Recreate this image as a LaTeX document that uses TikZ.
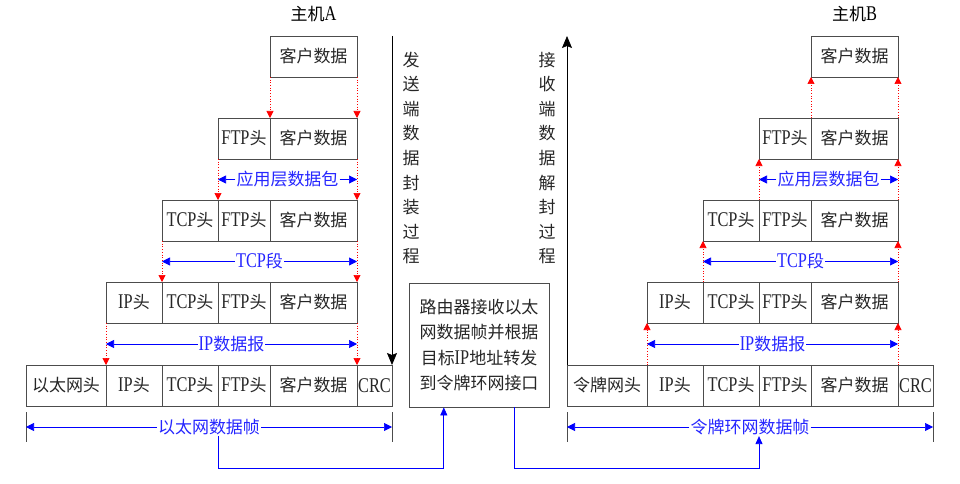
\documentclass[tikz,border=0pt]{standalone}
\usepackage{fontspec}
\setmainfont{Liberation Serif}[Scale=1.27,FakeStretch=0.78]
\newfontfamily\cjk{Noto Sans CJK SC}[Scale=1.03]
\newcommand{\zh}[1]{{\cjk #1}}
\usetikzlibrary{positioning,calc,arrows.meta}
\tikzstyle{cell} = [rectangle, draw=black!70, line width=0.8pt, minimum height=41pt, inner sep=0pt, outer sep=0pt, text=black!85]
\tikzstyle{hdrcell} = [cell, minimum width=80pt]
\tikzstyle{ipcell} = [cell, minimum width=56pt]
\tikzstyle{tcpcell} = [cell, minimum width=56pt]
\tikzstyle{ftpcell} = [cell, minimum width=52pt]
\tikzstyle{datacell} = [cell, minimum width=87pt]
\tikzstyle{crccell} = [cell, minimum width=35pt]
\tikzstyle{layer} = [draw, red, dotted, line width=0.7pt, -{Triangle[length=7pt,width=7pt]}]
\tikzstyle{span} = [draw, blue, line width=0.7pt, -{Triangle[length=8pt,width=8pt]}]
\tikzstyle{spanlabel} = [text=blue!85, fill=white, inner sep=1pt]
\tikzstyle{flow} = [draw, black, line width=0.8pt, -{Stealth[length=12pt,width=10pt,inset=2pt]}]
\tikzstyle{link} = [draw, blue, line width=0.8pt, -{Triangle[length=8pt,width=7pt]}]
\tikzstyle{tick} = [draw, black!70, line width=0.8pt]
\tikzstyle{vtext} = [align=center, inner sep=0pt, text=black!85, font=\fontsize{16.5}{24.6}\selectfont\cjk]
\tikzstyle{router} = [rectangle, draw=black!70, line width=0.8pt, minimum width=140pt, minimum height=124pt, align=center, inner sep=0pt, text=black!85, font=\fontsize{16.5}{25.5}\selectfont]
\begin{document}
\begin{tikzpicture}[x=1pt,y=-1pt,font=\fontsize{16.5}{19}\selectfont]
\useasboundingbox (0,0) rectangle (960,484);

% host A
\node[datacell] (a1data) at (313.5,56.5) {\zh{客户数据}};
\node[above=10pt of a1data] (hosta) {\zh{主机}A};
\node[datacell,below=41pt of a1data] (a2data) {\zh{客户数据}};
\node[ftpcell,left=0pt of a2data] (a2ftp) {FTP\zh{头}};
\node[datacell,below=41pt of a2data] (a3data) {\zh{客户数据}};
\node[ftpcell,left=0pt of a3data] (a3ftp) {FTP\zh{头}};
\node[tcpcell,left=0pt of a3ftp] (a3tcp) {TCP\zh{头}};
\node[datacell,below=41pt of a3data] (a4data) {\zh{客户数据}};
\node[ftpcell,left=0pt of a4data] (a4ftp) {FTP\zh{头}};
\node[tcpcell,left=0pt of a4ftp] (a4tcp) {TCP\zh{头}};
\node[ipcell,left=0pt of a4tcp] (a4ip) {IP\zh{头}};
\node[datacell,below=42pt of a4data] (a5data) {\zh{客户数据}};
\node[ftpcell,left=0pt of a5data] (a5ftp) {FTP\zh{头}};
\node[tcpcell,left=0pt of a5ftp] (a5tcp) {TCP\zh{头}};
\node[ipcell,left=0pt of a5tcp] (a5ip) {IP\zh{头}};
\node[hdrcell,left=0pt of a5ip] (a5eth) {\zh{以太网头}};
\node[crccell,right=0pt of a5data] (a5crc) {CRC};

\draw[layer] (a1data.south west) -- (a2data.north west);
\draw[layer] (a1data.south east) -- (a2data.north east);
\draw[layer] (a2ftp.south west) -- (a3ftp.north west);
\draw[layer] (a2data.south east) -- (a3data.north east);
\draw[layer] (a3tcp.south west) -- (a4tcp.north west);
\draw[layer] (a3data.south east) -- (a4data.north east);
\draw[layer] (a4ip.south west) -- (a5ip.north west);
\draw[layer] (a4data.south east) -- (a5data.north east);

\node[spanlabel] (appa) at ($(a2ftp.south west)!0.5!(a3data.north east)$) {\zh{应用层数据包}};
\draw[span] (appa.west) -- (appa.west -| a2ftp.west);
\draw[span] (appa.east) -- (appa.east -| a2data.east);
\node[spanlabel] (tcpa) at ($(a3tcp.south west)!0.5!(a4data.north east)$) {TCP\zh{段}};
\draw[span] (tcpa.west) -- (tcpa.west -| a3tcp.west);
\draw[span] (tcpa.east) -- (tcpa.east -| a3data.east);
\node[spanlabel] (ipa) at ($(a4ip.south west)!0.5!(a5data.north east)$) {IP\zh{数据报}};
\draw[span] (ipa.west) -- (ipa.west -| a4ip.west);
\draw[span] (ipa.east) -- (ipa.east -| a4data.east);

\draw[tick] ($(a5eth.south west)+(0,6)$) -- ++(0,30);
\draw[tick] ($(a5crc.south east)+(0,6)$) -- ++(0,30);
\node[spanlabel] (etha) at ($(a5eth.south west)!0.5!(a5crc.south east)+(0,21)$) {\zh{以太网数据帧}};
\draw[span] (etha.west) -- (etha.west -| a5eth.west);
\draw[span] (etha.east) -- (etha.east -| a5crc.east);

\draw[flow] (a1data.north -| a5crc.east) -- (a5crc.north east);
\node[vtext] (senda) at (411,158) {发\\送\\端\\数\\据\\封\\装\\过\\程};

% router
\node[router] (router) at (479,345) {\zh{路由器接收以太}\\\zh{网数据帧并根据}\\\zh{目标}IP\zh{地址转发}\\\zh{到令牌环网接口}};

% host B
\node[datacell] (b1data) at (854.5,56.5) {\zh{客户数据}};
\node[above=10pt of b1data] (hostb) {\zh{主机}B};
\node[datacell,below=41pt of b1data] (b2data) {\zh{客户数据}};
\node[ftpcell,left=0pt of b2data] (b2ftp) {FTP\zh{头}};
\node[datacell,below=41pt of b2data] (b3data) {\zh{客户数据}};
\node[ftpcell,left=0pt of b3data] (b3ftp) {FTP\zh{头}};
\node[tcpcell,left=0pt of b3ftp] (b3tcp) {TCP\zh{头}};
\node[datacell,below=41pt of b3data] (b4data) {\zh{客户数据}};
\node[ftpcell,left=0pt of b4data] (b4ftp) {FTP\zh{头}};
\node[tcpcell,left=0pt of b4ftp] (b4tcp) {TCP\zh{头}};
\node[ipcell,left=0pt of b4tcp] (b4ip) {IP\zh{头}};
\node[datacell,below=42pt of b4data] (b5data) {\zh{客户数据}};
\node[ftpcell,left=0pt of b5data] (b5ftp) {FTP\zh{头}};
\node[tcpcell,left=0pt of b5ftp] (b5tcp) {TCP\zh{头}};
\node[ipcell,left=0pt of b5tcp] (b5ip) {IP\zh{头}};
\node[hdrcell,left=0pt of b5ip] (b5tok) {\zh{令牌网头}};
\node[crccell,right=0pt of b5data] (b5crc) {CRC};

\draw[layer] (b2data.north west) -- (b1data.south west);
\draw[layer] (b2data.north east) -- (b1data.south east);
\draw[layer] (b3ftp.north west) -- (b2ftp.south west);
\draw[layer] (b3data.north east) -- (b2data.south east);
\draw[layer] (b4tcp.north west) -- (b3tcp.south west);
\draw[layer] (b4data.north east) -- (b3data.south east);
\draw[layer] (b5ip.north west) -- (b4ip.south west);
\draw[layer] (b5data.north east) -- (b4data.south east);

\node[spanlabel] (appb) at ($(b2ftp.south west)!0.5!(b3data.north east)$) {\zh{应用层数据包}};
\draw[span] (appb.west) -- (appb.west -| b2ftp.west);
\draw[span] (appb.east) -- (appb.east -| b2data.east);
\node[spanlabel] (tcpb) at ($(b3tcp.south west)!0.5!(b4data.north east)$) {TCP\zh{段}};
\draw[span] (tcpb.west) -- (tcpb.west -| b3tcp.west);
\draw[span] (tcpb.east) -- (tcpb.east -| b3data.east);
\node[spanlabel] (ipb) at ($(b4ip.south west)!0.5!(b5data.north east)$) {IP\zh{数据报}};
\draw[span] (ipb.west) -- (ipb.west -| b4ip.west);
\draw[span] (ipb.east) -- (ipb.east -| b4data.east);

\draw[tick] ($(b5tok.south west)+(0,6)$) -- ++(0,30);
\draw[tick] ($(b5crc.south east)+(0,6)$) -- ++(0,30);
\node[spanlabel] (tokb) at ($(b5tok.south west)!0.5!(b5crc.south east)+(0,21)$) {\zh{令牌环网数据帧}};
\draw[span] (tokb.west) -- (tokb.west -| b5tok.west);
\draw[span] (tokb.east) -- (tokb.east -| b5crc.east);

\draw[flow] (b5tok.north west) -- (b5tok.west |- b1data.north);
\node[vtext] (recvb) at (547,158) {接\\收\\端\\数\\据\\解\\封\\过\\程};

% links through the router
\coordinate (busy) at (0,468);
\coordinate (rin) at ($(router.south west)!0.25!(router.south east)$);
\coordinate (rout) at ($(router.south west)!0.75!(router.south east)$);
\draw[link] (etha.south -| a5ftp.west) -- (a5ftp.west |- busy) -| (rin);
\draw[link] (rout) -- (rout |- busy) -| (tokb.south -| b5ftp.west);

\end{tikzpicture}
\end{document}
